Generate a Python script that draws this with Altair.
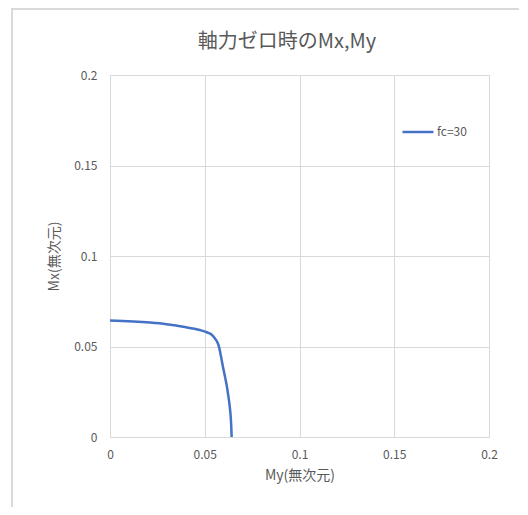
import altair as alt
import pandas as pd

# Data
my_vals = [0.0, 0.0211, 0.0298, 0.0386, 0.0474, 0.0517, 0.0537, 0.0553, 0.0566,
           0.0575, 0.0586, 0.0596, 0.0607, 0.0617, 0.0625, 0.0632, 0.0637,
           0.0640, 0.0642]
mx_vals = [0.0643, 0.0632, 0.0623, 0.0609, 0.0591, 0.0576, 0.0565, 0.0545,
           0.0525, 0.0499, 0.0444, 0.0388, 0.0333, 0.0278, 0.0223, 0.0167,
           0.0112, 0.0057, 0.0]
series_name = "fc=30"
axis_ticks = [0, 0.05, 0.1, 0.15, 0.2]
title_text = "軸力ゼロ時のMx,My"

df = pd.DataFrame({
    "My": my_vals,
    "Mx": mx_vals,
    "idx": list(range(len(my_vals))),
    "series": [series_name] * len(my_vals),
})

FONT = "Noto Sans CJK JP"
GRAY = "#595959"
GRID = "#d9d9d9"

x_enc = alt.X("My:Q",
              scale=alt.Scale(domain=[0, 0.2], nice=False, zero=True),
              axis=alt.Axis(values=axis_ticks, format="~g", title="My(無次元)",
                            grid=True, gridColor=GRID, domain=False, ticks=False,
                            labelPadding=12, labelFontSize=12, labelColor=GRAY,
                            labelFont=FONT, titleFont=FONT, titleFontSize=14,
                            titleColor=GRAY, titleFontWeight="normal",
                            titlePadding=8, labelFlush=False))
y_enc = alt.Y("Mx:Q",
              scale=alt.Scale(domain=[0, 0.2], nice=False, zero=True),
              axis=alt.Axis(values=axis_ticks, format="~g", title="Mx(無次元)",
                            grid=True, gridColor=GRID, domain=False, ticks=False,
                            labelPadding=13, labelFontSize=12, labelColor=GRAY,
                            labelFont=FONT, titleFont=FONT, titleFontSize=14,
                            titleColor=GRAY, titleFontWeight="normal",
                            titlePadding=12, labelFlush=False))

line = alt.Chart(df).mark_line(strokeWidth=2.5, interpolate="monotone").encode(
    x=x_enc,
    y=y_enc,
    order="idx:Q",
    color=alt.Color("series:N",
                    scale=alt.Scale(domain=[series_name], range=["#4472C4"]),
                    legend=alt.Legend(title=None, orient="none", legendX=291,
                                      legendY=40, symbolType="stroke",
                                      symbolSize=961, symbolStrokeWidth=2.5,
                                      labelFontSize=12, labelColor=GRAY,
                                      labelFont=FONT, labelOffset=2,
                                      padding=0)),
)

border = alt.Chart(df).mark_rect(fill=None, stroke=GRID, strokeWidth=1.5).encode(
    x=alt.value(-98), x2=alt.value(600), y=alt.value(-66), y2=alt.value(600)
)

title = alt.Chart(pd.DataFrame({"t": [title_text]})).mark_text(
    font=FONT, fontSize=20, color=GRAY, align="center", baseline="middle"
).encode(text="t:N", x=alt.value(177), y=alt.value(-33))

chart = alt.layer(border, line, title).properties(
    width=379,
    height=362,
    autosize=alt.AutoSizeParams(type="none"),
    padding={"left": 102, "top": 67, "right": 30, "bottom": 70},
).configure_view(stroke=None).configure(background="white")

chart.save("out.html", embed_options={"renderer": "svg", "actions": False})
